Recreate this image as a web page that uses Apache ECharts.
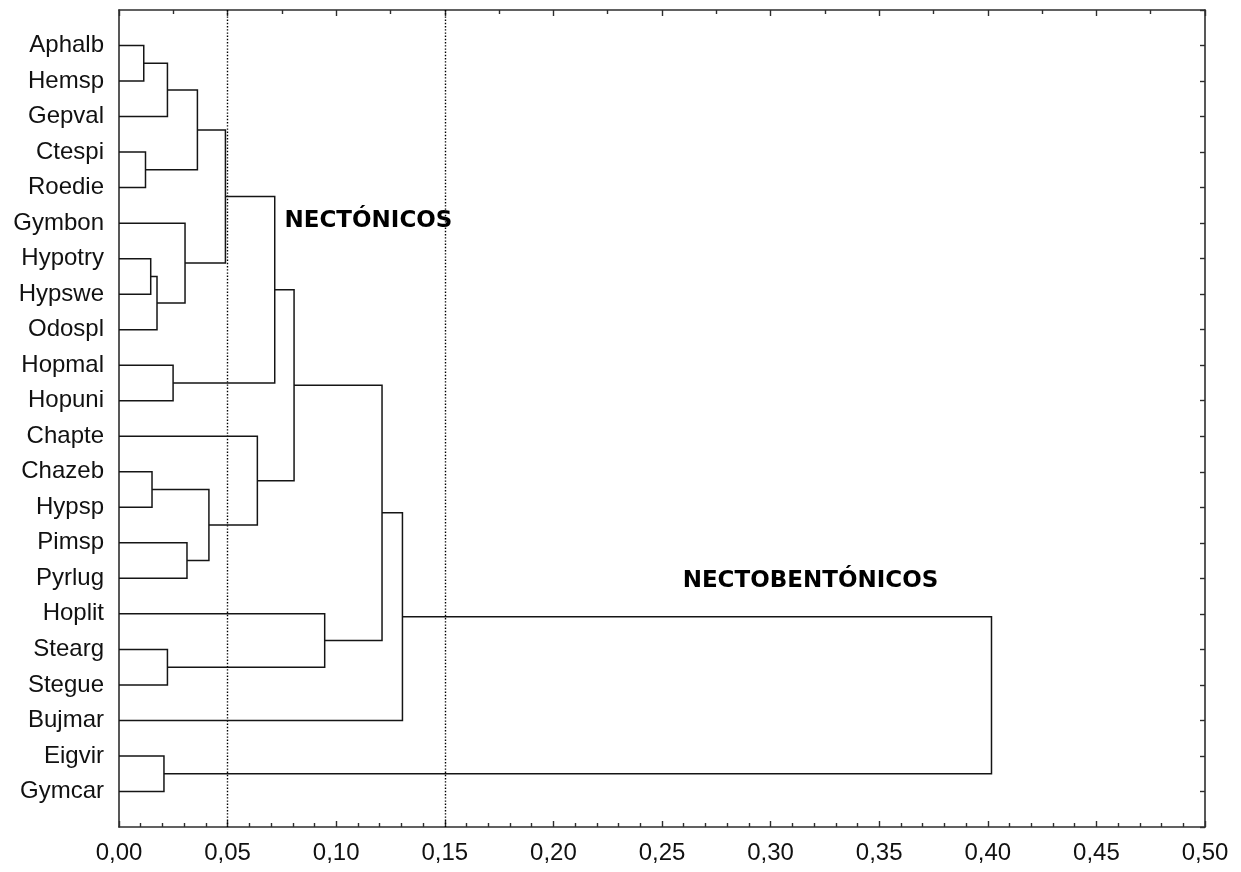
<!DOCTYPE html>
<html>
<head>
<meta charset="utf-8">
<script src="https://cdn.jsdelivr.net/npm/echarts@6/dist/echarts.min.js"></script>
<style>
  html, body { margin: 0; padding: 0; background: #ffffff; }
  #chart { width: 1241px; height: 872px; }
</style>
</head>
<body>
<div id="chart"></div>
<script>
// Species codes, top to bottom
const leafNames = [
  'Aphalb', 'Hemsp', 'Gepval', 'Ctespi', 'Roedie', 'Gymbon', 'Hypotry', 'Hypswe',
  'Odospl', 'Hopmal', 'Hopuni', 'Chapte', 'Chazeb', 'Hypsp', 'Pimsp', 'Pyrlug',
  'Hoplit', 'Stearg', 'Stegue', 'Bujmar', 'Eigvir', 'Gymcar'
];

// Agglomeration steps: step k joins mergeLeft[k] and mergeRight[k] into node leafNames.length + k
const mergeLeft  = [0, 22, 3, 23, 6, 26, 5, 25, 9, 29, 12, 14, 32, 11, 31, 17, 16, 36, 39, 20, 40];
const mergeRight = [1, 2, 4, 24, 7, 8, 27, 28, 10, 30, 13, 15, 33, 34, 35, 18, 37, 38, 19, 21, 41];
const mergeHeights = [
  0.0114, 0.0223, 0.0122, 0.0361, 0.0146, 0.0175, 0.0304, 0.0490, 0.0249, 0.0717,
  0.0152, 0.0313, 0.0414, 0.0637, 0.0806, 0.0223, 0.0947, 0.1211, 0.1305, 0.0207, 0.4017
];

// Dotted cut levels
const cutLevels = [0.05, 0.15];

// Group annotations (linkage distance, row position)
const groupNames   = ['NECTÓNICOS', 'NECTOBENTÓNICOS'];
const groupAnchorX = [0.0762, 0.2595];
const groupAnchorY = [4.94, 15.07];

// Distance axis labels
const xTickLabels = ['0,00', '0,05', '0,10', '0,15', '0,20', '0,25', '0,30', '0,35', '0,40', '0,45', '0,50'];

// ---- build the dendrogram geometry from the merge table ----
const nodeHeight = leafNames.map(() => 0);
const nodePos = leafNames.map((_, i) => i);
const branchData = [];
mergeLeft.forEach((l, k) => {
  const r = mergeRight[k];
  const h = mergeHeights[k];
  branchData.push({
    coords: [
      [nodeHeight[l], nodePos[l]],
      [h, nodePos[l]],
      [h, nodePos[r]],
      [nodeHeight[r], nodePos[r]]
    ]
  });
  nodeHeight.push(h);
  nodePos.push((nodePos[l] + nodePos[r]) / 2);
});

const rowMin = -1;
const rowMax = leafNames.length;

const cutData = cutLevels.map(c => ({ coords: [[c, rowMin], [c, rowMax]] }));

const groupData = groupNames.map((name, i) => ({
  value: [groupAnchorX[i], groupAnchorY[i]],
  name: name
}));

const frameColor = '#2e2e2e';
const textColor = '#111111';
const labelFont = 'Liberation Sans, Arial, sans-serif';

const chart = echarts.init(document.getElementById('chart'), null, { renderer: 'canvas' });

chart.setOption({
  animation: false,
  backgroundColor: '#ffffff',
  grid: { left: 119, top: 10, width: 1086, height: 817, containLabel: false },
  xAxis: [
    {
      type: 'value', position: 'bottom', min: 0, max: 0.5, interval: 0.05,
      axisLine: { show: true, onZero: false, lineStyle: { color: frameColor, width: 1.6 } },
      axisTick: { show: true, inside: true, length: 6, lineStyle: { color: frameColor, width: 1.4 } },
      minorTick: { show: true, splitNumber: 5, length: 4, lineStyle: { color: frameColor, width: 1.4 } },
      splitLine: { show: false },
      axisLabel: {
        show: true, margin: 14, color: textColor, fontSize: 24, fontFamily: labelFont,
        formatter: v => xTickLabels[Math.round(v / 0.05)] || ''
      }
    },
    {
      type: 'value', position: 'top', min: 0, max: 0.5, interval: 0.05,
      axisLine: { show: true, onZero: false, lineStyle: { color: frameColor, width: 1.6 } },
      axisTick: { show: true, inside: true, length: 6, lineStyle: { color: frameColor, width: 1.4 } },
      minorTick: { show: true, splitNumber: 2, length: 4, lineStyle: { color: frameColor, width: 1.4 } },
      splitLine: { show: false },
      axisLabel: { show: false }
    }
  ],
  yAxis: [
    {
      type: 'value', position: 'left', min: rowMin, max: rowMax, interval: 1, inverse: true,
      axisLine: { show: true, onZero: false, lineStyle: { color: frameColor, width: 1.6 } },
      axisTick: { show: false },
      splitLine: { show: false },
      axisLabel: {
        show: true, margin: 15, color: textColor, fontSize: 24, fontFamily: labelFont,
        formatter: v => (v >= 0 && v < leafNames.length) ? leafNames[v] : ''
      }
    },
    {
      type: 'value', position: 'right', min: rowMin, max: rowMax, interval: 1, inverse: true,
      axisLine: { show: true, onZero: false, lineStyle: { color: frameColor, width: 1.6 } },
      axisTick: { show: true, inside: true, length: 5, lineStyle: { color: frameColor, width: 1.4 } },
      splitLine: { show: false },
      axisLabel: { show: false }
    }
  ],
  series: [
    {
      name: 'cuts',
      type: 'lines',
      coordinateSystem: 'cartesian2d',
      xAxisIndex: 0, yAxisIndex: 0,
      polyline: false,
      silent: true,
      lineStyle: { color: '#000000', width: 1.4, type: [1.4, 1.8], opacity: 1 },
      data: cutData,
      z: 2
    },
    {
      name: 'dendrogram',
      type: 'lines',
      coordinateSystem: 'cartesian2d',
      xAxisIndex: 0, yAxisIndex: 0,
      polyline: true,
      silent: true,
      lineStyle: { color: '#151515', width: 1.5, opacity: 1 },
      data: branchData,
      z: 3
    },
    {
      name: 'groups',
      type: 'scatter',
      xAxisIndex: 0, yAxisIndex: 0,
      symbolSize: 0,
      silent: true,
      itemStyle: { color: '#000000', opacity: 0 },
      label: {
        show: true,
        position: 'right',
        distance: 0,
        align: 'left',
        verticalAlign: 'middle',
        formatter: p => p.name,
        color: '#000000',
        opacity: 1,
        textBorderWidth: 0,
        fontSize: 23,
        fontWeight: 'bold',
        fontFamily: 'DejaVu Sans, sans-serif'
      },
      data: groupData,
      z: 4
    }
  ]
});
</script>
</body>
</html>
